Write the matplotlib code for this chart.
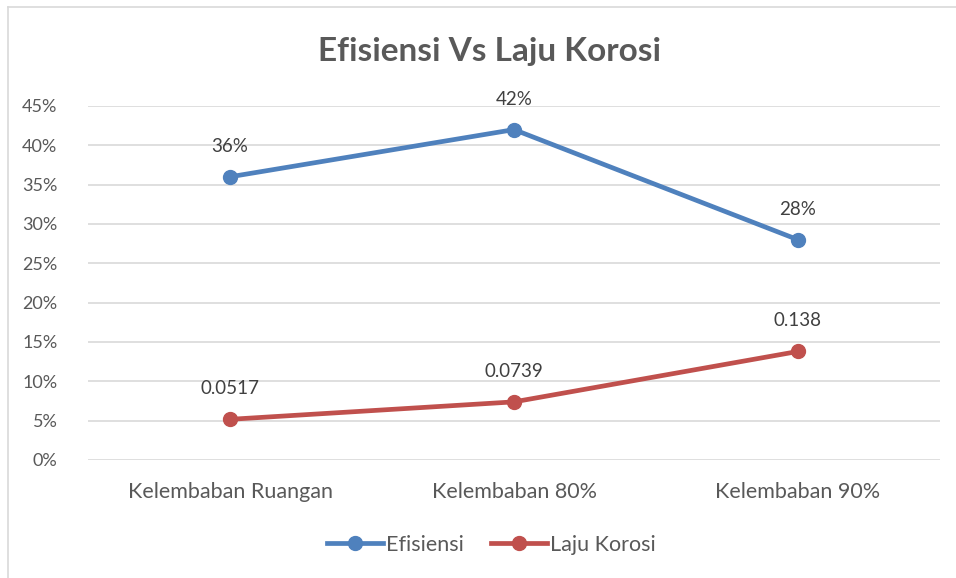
import matplotlib.pyplot as plt
from matplotlib.lines import Line2D

categories = ["Kelembaban Ruangan", "Kelembaban 80%", "Kelembaban 90%"]
efisiensi = [0.36, 0.42, 0.28]
laju_korosi = [0.0517, 0.0739, 0.138]
efisiensi_labels = ["36%", "42%", "28%"]
korosi_labels = ["0.0517", "0.0739", "0.138"]
yticks = [0, 0.05, 0.10, 0.15, 0.20, 0.25, 0.30, 0.35, 0.40, 0.45]

plt.rcParams['font.family'] = ['Lato', 'DejaVu Sans']
txt = '#595959'
blue = '#4F81BD'
red = '#C0504D'

fig = plt.figure(figsize=(9.56, 5.78), dpi=100)
ax = fig.add_axes([88 / 956, 118 / 578, 852 / 956, 354 / 578])

x = [0.5, 1.5, 2.5]
ax.plot(x, efisiensi, color=blue, lw=3.4, marker='o', ms=10, solid_capstyle='round', zorder=3)
ax.plot(x, laju_korosi, color=red, lw=3.4, marker='o', ms=10, solid_capstyle='round', zorder=3)

for xi, v, s in zip(x, efisiensi, efisiensi_labels):
    ax.annotate(s, (xi, v), xytext=(0, 22), textcoords='offset points',
                ha='center', va='center', fontsize=13.5, color='#404040')
for xi, v, s in zip(x, laju_korosi, korosi_labels):
    ax.annotate(s, (xi, v), xytext=(0, 22), textcoords='offset points',
                ha='center', va='center', fontsize=13.5, color='#404040')

ax.set_xlim(0, 3)
ax.set_ylim(0, 0.45)
ax.set_yticks(yticks)
ax.set_yticklabels([f"{round(t * 100)}%" for t in yticks])
ax.set_xticks(x)
ax.set_xticklabels(categories)
ax.grid(axis='y', color='#D9D9D9', lw=1.2)
ax.set_axisbelow(True)
for sp in ax.spines.values():
    sp.set_visible(False)
ax.tick_params(length=0, colors=txt)
ax.tick_params(axis='y', pad=22, labelsize=13)
ax.tick_params(axis='x', pad=16, labelsize=15.5)

fig.text(490 / 956, 1 - 52 / 578, "Efisiensi Vs Laju Korosi", ha='center', va='center',
         fontsize=24, fontweight='bold', color=txt)

handles = [Line2D([], [], color=blue, lw=3.4, marker='o', ms=10),
           Line2D([], [], color=red, lw=3.4, marker='o', ms=10)]
fig.legend(handles, ["Efisiensi", "Laju Korosi"], loc='center', bbox_to_anchor=(0.514, 1 - 545 / 578),
           ncol=2, frameon=False, fontsize=15.5, labelcolor=txt, handlelength=2.6,
           handletextpad=0.1, columnspacing=1.3)

# chart border (left and top visible)
fig.add_artist(Line2D([8 / 956, 8 / 956], [0, 1 - 7 / 578], color='#D9D9D9', lw=1.2))
fig.add_artist(Line2D([8 / 956, 1], [1 - 7 / 578, 1 - 7 / 578], color='#D9D9D9', lw=1.2))

fig.savefig("out.png", dpi=100)
